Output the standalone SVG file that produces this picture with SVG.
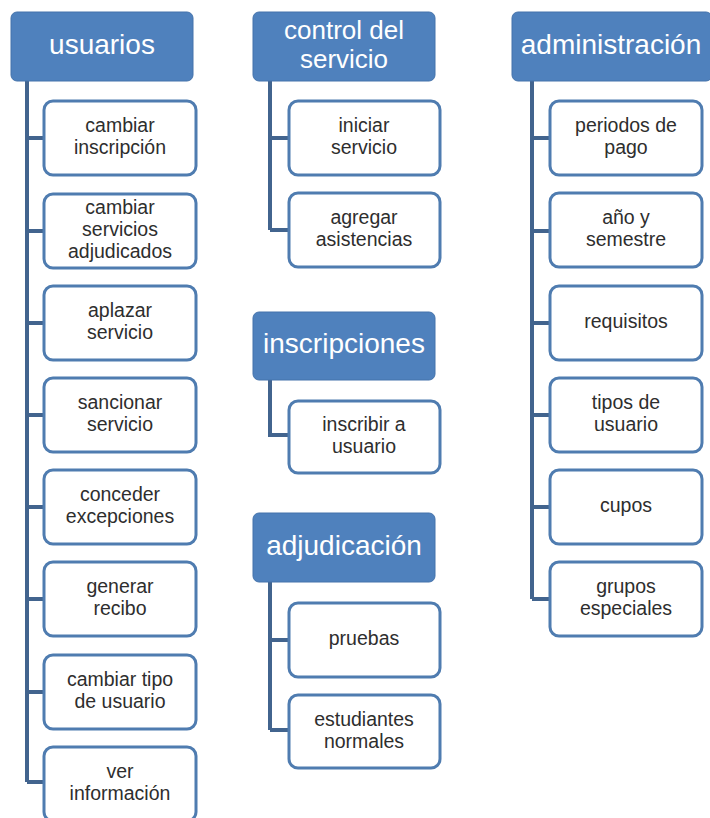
<svg xmlns="http://www.w3.org/2000/svg" width="710" height="818" viewBox="0 0 710 818">
<style>
.hd{fill:#4f81bd;stroke:#4573ab;stroke-width:1}
.ch{fill:#ffffff;stroke:#4f7cb0;stroke-width:3}
.cn{fill:none;stroke:#42648e;stroke-width:4;stroke-linejoin:miter}
.ht{font-family:"Liberation Sans",Arial,sans-serif;font-size:28px;fill:#ffffff;text-anchor:middle}
.h2{font-size:26px}
.ct{font-family:"Liberation Sans",Arial,sans-serif;font-size:19.5px;fill:#2e2e2e;text-anchor:middle}
</style>
<rect width="710" height="818" fill="#ffffff"/>
<g id="connectors">
<path class="cn" d="M27,81 V782 M27,138 H44 M27,231 H44 M27,323 H44 M27,415 H44 M27,507 H44 M27,599 H44 M27,692 H44 M27,782 H44"/>
<path class="cn" d="M270,81 V230 M270,138 H289 M270,230 H289"/>
<path class="cn" d="M270,380 V435 H289"/>
<path class="cn" d="M270,582 V730 M270,640 H289 M270,730 H289"/>
<path class="cn" d="M532,81 V599 M532,138 H550 M532,231 H550 M532,323 H550 M532,415 H550 M532,507 H550 M532,599 H550"/>
</g>
<g id="usuarios"><rect class="hd" x="11" y="12" width="182" height="69" rx="6"/><text class="ht" x="102" y="54">usuarios</text></g>
<g id="u1"><rect class="ch" x="44" y="101" width="152" height="74" rx="9"/><text class="ct" x="120" y="132">cambiar<tspan x="120" dy="22">inscripción</tspan></text></g>
<g id="u2"><rect class="ch" x="44" y="194" width="152" height="74" rx="9"/><text class="ct" x="120" y="214">cambiar<tspan x="120" dy="22">servicios</tspan><tspan x="120" dy="22">adjudicados</tspan></text></g>
<g id="u3"><rect class="ch" x="44" y="286" width="152" height="74" rx="9"/><text class="ct" x="120" y="317">aplazar<tspan x="120" dy="22">servicio</tspan></text></g>
<g id="u4"><rect class="ch" x="44" y="378" width="152" height="74" rx="9"/><text class="ct" x="120" y="409">sancionar<tspan x="120" dy="22">servicio</tspan></text></g>
<g id="u5"><rect class="ch" x="44" y="470" width="152" height="74" rx="9"/><text class="ct" x="120" y="501">conceder<tspan x="120" dy="22">excepciones</tspan></text></g>
<g id="u6"><rect class="ch" x="44" y="562" width="152" height="74" rx="9"/><text class="ct" x="120" y="593">generar<tspan x="120" dy="22">recibo</tspan></text></g>
<g id="u7"><rect class="ch" x="44" y="655" width="152" height="74" rx="9"/><text class="ct" x="120" y="686">cambiar tipo<tspan x="120" dy="22">de usuario</tspan></text></g>
<g id="u8"><rect class="ch" x="44" y="747" width="152" height="74" rx="9"/><text class="ct" x="120" y="778">ver<tspan x="120" dy="22">información</tspan></text></g>
<g id="control"><rect class="hd" x="253" y="12" width="182" height="69" rx="6"/><text class="ht h2" x="344" y="39">control del<tspan x="344" dy="29">servicio</tspan></text></g>
<g id="c1"><rect class="ch" x="289" y="101" width="151" height="74" rx="9"/><text class="ct" x="364" y="132">iniciar<tspan x="364" dy="22">servicio</tspan></text></g>
<g id="c2"><rect class="ch" x="289" y="193" width="151" height="74" rx="9"/><text class="ct" x="364" y="224">agregar<tspan x="364" dy="22">asistencias</tspan></text></g>
<g id="inscripciones"><rect class="hd" x="253" y="312" width="182" height="68" rx="6"/><text class="ht" x="344" y="353">inscripciones</text></g>
<g id="i1"><rect class="ch" x="289" y="401" width="151" height="72" rx="9"/><text class="ct" x="364" y="431">inscribir a<tspan x="364" dy="22">usuario</tspan></text></g>
<g id="adjudicacion"><rect class="hd" x="253" y="513" width="182" height="69" rx="6"/><text class="ht" x="344" y="555">adjudicación</text></g>
<g id="a1"><rect class="ch" x="289" y="603" width="151" height="74" rx="9"/><text class="ct" x="364" y="645">pruebas</text></g>
<g id="a2"><rect class="ch" x="289" y="695" width="151" height="73" rx="9"/><text class="ct" x="364" y="726">estudiantes<tspan x="364" dy="22">normales</tspan></text></g>
<g id="administracion"><rect class="hd" x="512" y="12" width="200" height="69" rx="6"/><text class="ht" x="611" y="54">administración</text></g>
<g id="d1"><rect class="ch" x="550" y="101" width="152" height="74" rx="9"/><text class="ct" x="626" y="132">periodos de<tspan x="626" dy="22">pago</tspan></text></g>
<g id="d2"><rect class="ch" x="550" y="193" width="152" height="74" rx="9"/><text class="ct" x="626" y="224">año y<tspan x="626" dy="22">semestre</tspan></text></g>
<g id="d3"><rect class="ch" x="550" y="286" width="152" height="74" rx="9"/><text class="ct" x="626" y="328">requisitos</text></g>
<g id="d4"><rect class="ch" x="550" y="378" width="152" height="74" rx="9"/><text class="ct" x="626" y="409">tipos de<tspan x="626" dy="22">usuario</tspan></text></g>
<g id="d5"><rect class="ch" x="550" y="470" width="152" height="74" rx="9"/><text class="ct" x="626" y="512">cupos</text></g>
<g id="d6"><rect class="ch" x="550" y="562" width="152" height="74" rx="9"/><text class="ct" x="626" y="593">grupos<tspan x="626" dy="22">especiales</tspan></text></g>
</svg>
